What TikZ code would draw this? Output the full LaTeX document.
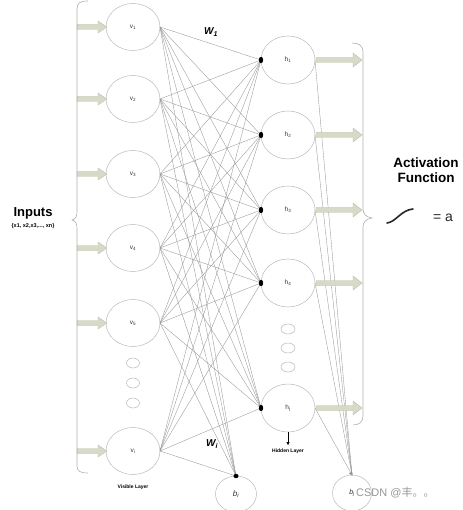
\documentclass[tikz,border=0pt]{standalone}
\usepackage{fontspec}
\setmainfont{Liberation Sans}
\newfontfamily\cjk{Noto Sans CJK SC}
\usetikzlibrary{arrows.meta,shapes.geometric}
\definecolor{ringc}{RGB}{185,185,185}
\definecolor{linkc}{RGB}{150,150,150}
\definecolor{arrfill}{RGB}{214,218,199}
\definecolor{arrdraw}{RGB}{186,191,168}
\definecolor{bracec}{RGB}{175,175,175}
\definecolor{wmc}{RGB}{150,150,150}
\begin{document}
\begin{tikzpicture}[x=1pt,y=-1pt,
  every node/.style={font=\fontsize{6.5}{7}\selectfont, text=black!80},
  vn/.style={draw=ringc, line width=0.5pt, ellipse, minimum width=54pt, minimum height=47pt, inner sep=0pt, outer sep=0pt},
  sn/.style={draw=ringc, line width=0.5pt, ellipse, minimum width=13pt, minimum height=10pt, inner sep=0pt},
  bn/.style={draw=ringc, line width=0.5pt, ellipse, minimum width=41pt, minimum height=36pt, inner sep=0pt, outer sep=0pt},
  link/.style={draw=linkc, line width=0.35pt},
  brace/.style={draw=bracec, line width=0.6pt},
  lbl/.style={font=\bfseries\fontsize{5}{6}\selectfont, text=black},
  inarrow/.pic={\filldraw[fill=arrfill, draw=arrdraw, line width=0.4pt]
     (0,-2.5)--(21,-2.5)--(21,-6)--(30,0)--(21,6)--(21,2.5)--(0,2.5)--cycle;},
  outarrow/.pic={\filldraw[fill=arrfill, draw=arrdraw, line width=0.4pt]
     (0,-2.5)--(37,-2.5)--(37,-7)--(46,0)--(37,7)--(37,2.5)--(0,2.5)--cycle;}
]
\useasboundingbox (0,0) rectangle (462,510);

% visible nodes
\node[vn] (v1) at (133,27) {v\textsubscript{1}};
\node[vn] (v2) at (133,99) {v\textsubscript{2}};
\node[vn] (v3) at (133,174) {v\textsubscript{3}};
\node[vn] (v4) at (133,248) {v\textsubscript{4}};
\node[vn] (v5) at (133,323) {v\textsubscript{5}};
\node[vn] (vi) at (133,451) {v\textsubscript{i}};
\node[sn] (vs1) at (133,363) {};
\node[sn] (vs2) at (133,383) {};
\node[sn] (vs3) at (133,403) {};

% hidden nodes
\node[vn, minimum height=48pt] (h1) at (288,60) {h\textsubscript{1}};
\node[vn, minimum height=48pt] (h2) at (288,135) {h\textsubscript{2}};
\node[vn, minimum height=48pt] (h3) at (288,210) {h\textsubscript{3}};
\node[vn, minimum height=48pt] (h4) at (288,283) {h\textsubscript{4}};
\node[vn, minimum height=48pt] (hj) at (288,408) {h\textsubscript{j}};
\node[sn, minimum width=14pt] (hs1) at (288,329) {};
\node[sn, minimum width=14pt] (hs2) at (288,348) {};
\node[sn, minimum width=14pt] (hs3) at (288,367) {};

% bias nodes
\node[bn] (bi) at (236,494) {\itshape\fontsize{8}{9}\selectfont b\textsubscript{i}};
\node[bn, minimum width=39pt] (bj) at (352,493) {\itshape\fontsize{7}{8}\selectfont b\textsubscript{j}\hspace{4pt}};

% connections visible -> hidden and bias
\foreach \v in {v1,v2,v3,v4,v5,vi}{
  \foreach \h in {h1,h2,h3,h4,hj}{
    \draw[link] (\v.east) -- (\h.west);
  }
  \draw[link] (\v.east) -- (bi.north);
}
% hidden -> bj
\foreach \h in {h1,h2,h3,h4}{
  \draw[link] (\h.east) -- (bj.north);
}
\draw[link, -{Triangle[length=4pt,width=3.5pt]}, shorten >=-1pt] (hj.east) -- (bj.north);

% black dots
\foreach \h in {h1,h2,h3,h4,hj}{
  \fill[black] (\h.west) ellipse (2.2pt and 3.2pt);
}
\fill[black] (bi.north) ellipse (2.5pt and 2.2pt);

% input arrows
\foreach \v in {v1,v2,v3,v4,v5,vi}{
  \pic at ([xshift=-29pt]\v.west) {inarrow};
}
% output arrows
\foreach \h in {h1,h2,h3,h4,hj}{
  \pic at ([xshift=1pt]\h.east) {outarrow};
}

% left brace
\draw[brace] (88,1) .. controls (80,1) and (77,3) .. (77,9) -- (77,211)
  .. controls (77,216) and (76,219) .. (72,220) .. controls (76,221) and (77,224) .. (77,229)
  -- (77,466) .. controls (77,471) and (80,473) .. (88,473);
% right brace
\draw[brace] (352,43) .. controls (359,43) and (363,46) .. (363,52) -- (363,209)
  .. controls (363,214) and (366,217) .. (372,218) .. controls (366,219) and (363,222) .. (363,227)
  -- (363,416) .. controls (363,422) and (359,425) .. (353,425);

% labels
\node[font=\bfseries\fontsize{13}{14}\selectfont, text=black] (inp) at (33,213) {Inputs};
\node[lbl, font=\bfseries\fontsize{5.5}{6}\selectfont] (inpx) at (33,226) {\{x1, x2,x3,..., xn\}};
\node[lbl] (vlab) at (133,487) {Visible Layer};
\node[lbl] (hlab) at (288,451) {Hidden Layer};
\draw[black, line width=0.4pt, -{Triangle[length=3pt,width=3pt]}] (hj.south) -- (288,445);
\node[font=\bfseries\itshape\fontsize{10}{11}\selectfont, text=black] (w1) at (211,32) {W\textsubscript{1}};
\node[font=\bfseries\itshape\fontsize{10}{11}\selectfont, text=black] (wi) at (212,444) {W\textsubscript{i}};

\node[font=\bfseries\fontsize{13.5}{15}\selectfont, text=black, align=center] (act) at (426,170) {Activation\\Function};
\draw[black!85, line width=1.6pt, line cap=round] (387,223) .. controls (396,222) and (401,210) .. (413,209);
\node[font=\fontsize{14}{15}\selectfont, text=black!85] (eqa) at (443,218) {= a};

% watermark
\node[anchor=west, font=\fontsize{11}{12}\selectfont, text=wmc, inner sep=0pt] (wm) at (356,493) {CSDN @{\cjk 丰。。}};
\end{tikzpicture}
\end{document}
